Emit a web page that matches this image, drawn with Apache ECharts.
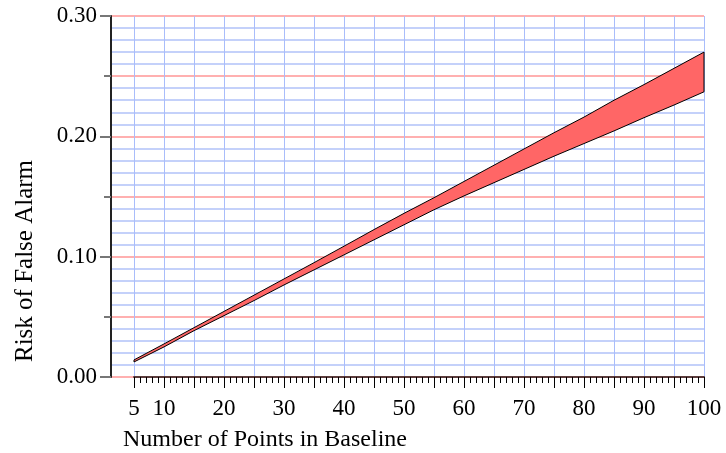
<!DOCTYPE html>
<html><head><meta charset="utf-8">
<script src="https://cdn.jsdelivr.net/npm/echarts@6/dist/echarts.min.js"></script>
<style>html,body{margin:0;padding:0;background:#fff}#c{width:726px;height:453px}</style>
</head><body><div id="c"></div>
<script>
const xValues   = [5, 10, 15, 20, 25, 30, 35, 40, 45, 50, 55, 60, 65, 70, 75, 80, 85, 90, 95, 100];
const upperRisk = [0.0142, 0.0275, 0.041, 0.0545, 0.068, 0.0815, 0.095, 0.1087, 0.1225, 0.136, 0.149, 0.1625, 0.176, 0.1895, 0.203, 0.216, 0.230, 0.243, 0.2565, 0.270];
const lowerRisk = [0.0125, 0.025, 0.0385, 0.051, 0.0635, 0.0765, 0.089, 0.1015, 0.114, 0.1265, 0.139, 0.1505, 0.1615, 0.1725, 0.1835, 0.194, 0.2045, 0.2155, 0.226, 0.237];
const xTickLabels = [5, 10, 20, 30, 40, 50, 60, 70, 80, 90, 100];
const yTickLabels = [0, 0.1, 0.2, 0.3];
const xTitle = 'Number of Points in Baseline';
const yTitle = 'Risk of False Alarm';

const FONT = '"Liberation Serif", serif';
const chart = echarts.init(document.getElementById('c'));
const GL = {top: 16, bottom: 76, right: 22};
const bandData = xValues.map((x, i) => [x, upperRisk[i], lowerRisk[i]]);

chart.setOption({
  animation: false,
  grid: [Object.assign({left: 111}, GL), Object.assign({left: 134}, GL)],
  xAxis: [
    {gridIndex: 0, type: 'value', min: 0, max: 1, show: false},
    {gridIndex: 1, type: 'value', min: 5, max: 100, interval: 5,
      axisLine: {show: true, onZero: false, lineStyle: {color: '#5b3b3b', width: 2}},
      axisTick: {show: true, length: 11, lineStyle: {color: '#000', width: 1}},
      minorTick: {show: true, splitNumber: 5, length: 6, lineStyle: {color: '#000', width: 1}},
      axisLabel: {formatter: v => xTickLabels.includes(v) ? String(v) : '', margin: 20,
        fontFamily: FONT, fontSize: 23, color: '#000'},
      splitLine: {show: true, lineStyle: {color: '#a9bdfb', width: 1}}}
  ],
  yAxis: [
    {gridIndex: 0, type: 'value', position: 'left', min: 0, max: 0.3, interval: 0.01,
      axisLine: {show: true, lineStyle: {color: '#222', width: 2}},
      axisTick: {show: false}, axisLabel: {show: false},
      splitLine: {show: true, lineStyle: {color: ['#ffb0b0', '#c4d1fa', '#c4d1fa', '#c4d1fa', '#c4d1fa'], width: 2}}},
    {gridIndex: 0, type: 'value', position: 'left', offset: 0, min: 0, max: 0.3, interval: 0.05,
      axisLine: {show: false}, axisLabel: {show: false}, splitLine: {show: false},
      axisTick: {show: true, length: 7, lineStyle: {color: '#777', width: 2}}},
    {gridIndex: 0, type: 'value', position: 'left', offset: 0, min: 0, max: 0.3, interval: 0.1,
      axisLine: {show: false}, splitLine: {show: false},
      axisTick: {show: true, length: 11, lineStyle: {color: '#777', width: 2}},
      axisLabel: {formatter: v => yTickLabels.some(t => Math.abs(t - v) < 1e-9) ? v.toFixed(2) : '',
        margin: 14, fontFamily: FONT, fontSize: 23, color: '#000'}},
    {gridIndex: 1, type: 'value', min: 0, max: 0.3, show: false}
  ],
  series: [{
    type: 'custom', xAxisIndex: 1, yAxisIndex: 3, data: bandData, z: 5,
    renderItem: function (params, api) {
      if (params.dataIndex !== 0) return null;
      const pts = [];
      for (let i = 0; i < bandData.length; i++) pts.push(api.coord([bandData[i][0], bandData[i][1]]));
      for (let i = bandData.length - 1; i >= 0; i--) pts.push(api.coord([bandData[i][0], bandData[i][2]]));
      return {type: 'polygon', shape: {points: pts}, style: {fill: '#ff6666', stroke: '#000', lineWidth: 1}};
    }
  }],
  graphic: [
    {type: 'text', left: 123, top: 428, style: {text: xTitle, font: '24px "Liberation Serif", serif', fill: '#000'}},
    {type: 'text', x: 25, y: 261, rotation: Math.PI / 2,
      style: {text: yTitle, font: '25px "Liberation Serif", serif', fill: '#000', align: 'center', verticalAlign: 'middle'}}
  ]
});
</script></body></html>
